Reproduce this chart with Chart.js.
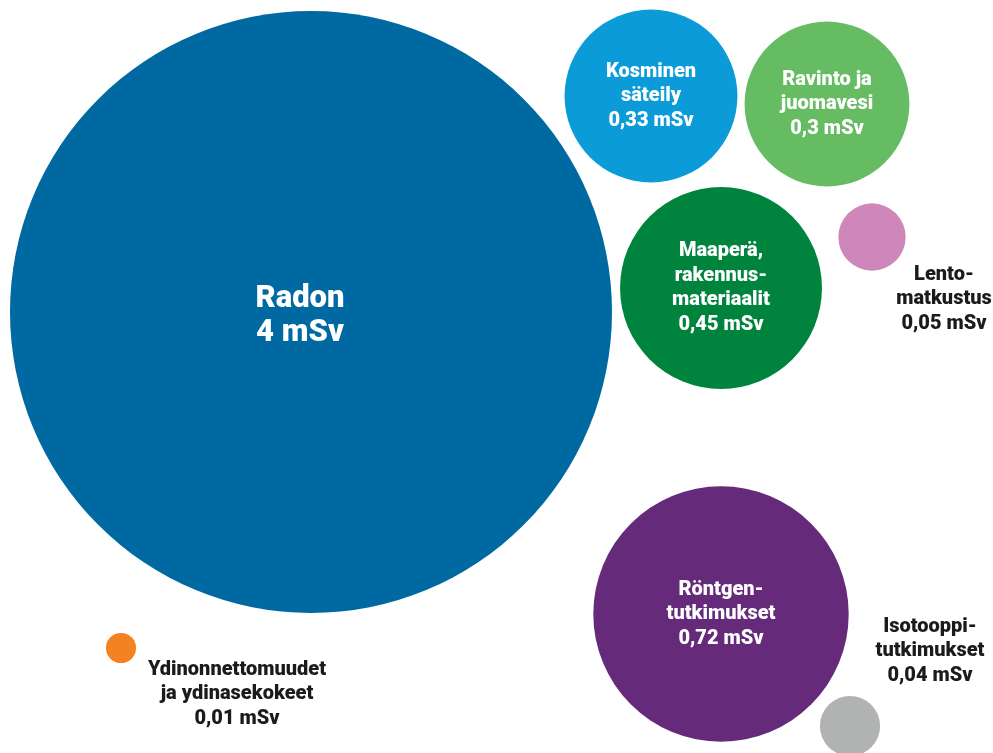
<!DOCTYPE html>
<html>
<head>
<meta charset="utf-8">
<script src="https://cdn.jsdelivr.net/npm/chart.js@4"></script>
<style>
  html, body { margin: 0; padding: 0; background: #fff; }
  #wrap { width: 993px; height: 753px; position: relative; }
</style>
</head>
<body>
<div id="wrap"><canvas id="chart"></canvas></div>
<script>
// annual radiation dose by source (mSv)
const sources = [
    ['Radon'],
    ['Kosminen', 'säteily'],
    ['Ravinto ja', 'juomavesi'],
    ['Maaperä,', 'rakennus-', 'materiaalit'],
    ['Lento-', 'matkustus'],
    ['Röntgen-', 'tutkimukset'],
    ['Isotooppi-', 'tutkimukset'],
    ['Ydinonnettomuudet', 'ja ydinasekokeet'],
];
const doses = [4, 0.33, 0.3, 0.45, 0.05, 0.72, 0.04, 0.01];
const doseLabels = ['4 mSv', '0,33 mSv', '0,3 mSv', '0,45 mSv', '0,05 mSv', '0,72 mSv', '0,04 mSv', '0,01 mSv'];
// packed layout of the bubbles
const layoutX = [311, 651, 827, 721, 872, 721, 850, 121];
const layoutY = [312, 96, 104, 288, 237, 614, 726, 648];
const colors = ['#0069a1', '#0a9bd8', '#66bc62', '#00843d', '#cf87bb', '#652a7a', '#b1b3b3', '#f58220'];

// radius scaled so that area ~ dose
const RADIUS_K = 150.5;
// label offset from bubble center (outside labels are dark)
const offsets = { 0: [-11, 4], 4: [72, 62], 6: [80, -75], 7: [116, 46] };
const outside = [4, 6, 7];

const labelPlugin = {
    id: 'bubbleLabels',
    afterDatasetsDraw(chart) {
        const ctx = chart.ctx;
        const meta = chart.getDatasetMeta(0);
        ctx.save();
        ctx.textAlign = 'center';
        ctx.textBaseline = 'middle';
        meta.data.forEach((pt, i) => {
            const lines = sources[i].concat([doseLabels[i]]);
            const big = i === 0;
            const size = big ? 31 : 20;
            const lh = big ? 34 : 24.5;
            ctx.font = '900 ' + size + 'px Roboto, "Noto Sans", sans-serif';
            const off = offsets[i] || [0, 0];
            const cx = pt.x + off[0];
            const cy = pt.y + off[1];
            ctx.fillStyle = outside.includes(i) ? '#1b1b1b' : '#ffffff';
            const top = cy - (lines.length - 1) * lh / 2;
            lines.forEach((t, j) => ctx.fillText(t, cx, top + j * lh));
        });
        ctx.restore();
    }
};

new Chart(document.getElementById('chart').getContext('2d'), {
    type: 'bubble',
    data: {
        datasets: [
            {
                data: doses.map((d, i) => ({ x: layoutX[i], y: layoutY[i], v: d })),
                backgroundColor: colors,
                borderWidth: 0,
                hoverBorderWidth: 0,
                radius: (c) => RADIUS_K * Math.sqrt(c.raw ? c.raw.v : 0),
                hoverRadius: 0,
                clip: false,
            },
        ],
    },
    options: {
        responsive: true,
        maintainAspectRatio: false,
        animation: false,
        layout: { padding: 0, autoPadding: false },
        scales: {
            x: { type: 'linear', min: 0, max: 993, display: false },
            y: { type: 'linear', min: 0, max: 753, reverse: true, display: false },
        },
        plugins: {
            legend: { display: false },
            tooltip: { enabled: false },
        },
    },
    plugins: [labelPlugin],
});
</script>
</body>
</html>
